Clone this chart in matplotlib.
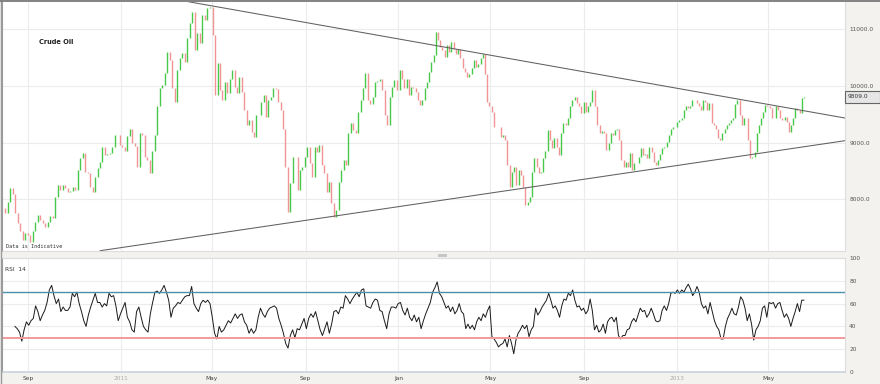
import matplotlib
matplotlib.use("Agg")
import matplotlib.pyplot as plt
import matplotlib.patches as mpatches
import pandas as pd

# closes, four runs (start date, end date, values)
closes_a = [7850, 7760, 7950, 8200, 8100, 7760, 7580, 7450, 7280, 7400,
            7370, 7250, 7450, 7600, 7720, 7640, 7580, 7510, 7600, 7700,
            7670, 8040, 8250, 8170, 8250, 8200, 8130, 8150, 8220, 8170,
            8520, 8730, 8820, 8490, 8460, 8220, 8130, 8400, 8550, 8660,
            8930, 8790, 8800, 8820, 8930, 9130, 9130, 8960, 8930, 8850,
            9120, 9250, 8990, 8950, 8570, 9170, 9130, 8750, 8700, 8460,
            8850, 9130, 9640, 9960, 10020, 10230, 10600, 10460, 9960, 9720,
            10290, 10500, 10580, 10430, 10840, 11110, 11310, 10630, 10930, 10760,
            11250, 11160, 11370, 11390]
closes_b = [10900, 9840, 10400, 9930, 9750, 10070, 9870, 10130, 10280, 9990,
            9870, 10160, 9900, 9580, 9310, 9400, 9190, 9100, 9490, 9490,
            9720, 9840, 9460, 9750, 9810, 9960, 9950, 9720, 9580, 9250,
            8570, 7780, 8280, 8750, 8740, 8170, 8520, 8570, 8750, 8930,
            8640, 8400, 8930, 8840, 8960, 8600, 8460, 8130, 8310, 7930,
            7690, 7810, 8310, 8520, 8700, 8610, 9170, 9340, 9220, 9170,
            9540, 9750, 9960, 10230, 9750, 9690, 9810, 10070, 10080, 10130,
            9930, 9490, 9310, 9810, 9990, 10100, 9930]
closes_c = [10280, 10130, 9960, 10130, 9840, 9990, 9960, 9900, 9750, 9660,
            9750, 9960, 10070, 10250, 10430, 10540, 10960, 10810, 10690, 10630,
            10520, 10720, 10600, 10780, 10660, 10570, 10660, 10490, 10310, 10250,
            10160, 10220, 10310, 10460, 10340, 10390, 10490, 10570, 10220, 9720,
            9640, 9540, 9280, 9270, 9280, 9100, 9130, 9050, 8610, 8220,
            8490, 8570, 8250, 8520, 8430, 8220, 7900, 7960, 8040, 8490,
            8730, 8570, 8460, 8490, 8730, 8850, 9220, 9050, 8900, 9080,
            8930, 8780, 9170, 9340, 9310, 9430, 9640, 9750, 9810, 9700,
            9640, 9520, 9720, 9550, 9640, 9720, 9930, 9640, 9310]
closes_d = [9170, 9200, 9170, 8870, 8990, 9170, 9130, 9220, 9250, 9050,
            8700, 8570, 8660, 8570, 8820, 8520, 8640, 8640, 8750, 8900,
            8780, 8800, 8730, 8930, 8840, 8660, 8610, 8700, 8800, 8900,
            8930, 9010, 9130, 9250, 9280, 9280, 9370, 9400, 9430, 9580,
            9640, 9620, 9640, 9750, 9750, 9700, 9640, 9580, 9750, 9720,
            9580, 9700, 9340, 9310, 9250, 9080, 9050, 9170, 9250, 9310,
            9340, 9400, 9430, 9690, 9750, 9490, 9310, 9430, 9430, 9050,
            8730, 8750, 8840, 9170, 9310, 9430, 9540, 9660, 9640, 9620,
            9430, 9430, 9640, 9580, 9430, 9400, 9460, 9370, 9190, 9310,
            9430, 9620, 9580, 9520, 9780, 9809]
close_runs = [("2010-07-30", "2011-04-28", closes_a),
              ("2011-05-02", "2011-12-30", closes_b),
              ("2012-01-03", "2012-09-18", closes_c),
              ("2012-09-22", "2013-06-17", closes_d)]

# RSI 14, two runs
rsi_a = [40, 38, 35, 27, 37, 44, 41, 45, 47, 58, 53, 45, 50, 54, 61, 72, 76, 67, 60, 64,
         53, 57, 54, 54, 57, 69, 66, 70, 60, 53, 45, 40, 50, 57, 63, 69, 61, 61, 57, 60,
         58, 69, 66, 67, 58, 45, 51, 56, 61, 48, 44, 37, 35, 53, 57, 48, 40, 37, 35, 51,
         61, 70, 71, 69, 72, 76, 70, 63, 48, 56, 58, 61, 60, 63, 66, 67, 67, 75, 60, 56,
         53, 60, 63, 61, 63, 60, 48, 34, 29, 40, 35, 37, 41, 45, 43, 47, 51, 47, 50, 51,
         44, 41, 34, 38, 34, 37, 48, 56, 51, 48, 53, 56, 57, 58, 56, 47, 41, 34, 25, 21,
         32, 37, 30, 38, 37, 42, 47, 38, 47, 51, 48, 53, 45, 37, 32, 38, 44, 34, 42, 53,
         54, 51, 57, 56, 67, 64, 60, 64, 67, 70, 66, 72, 73, 58, 57, 56, 61, 64, 63, 54,
         53, 45, 38, 51, 57, 57, 56, 60, 61, 54, 50, 56, 48, 45, 50, 44, 48, 38, 45, 51,
         56, 61, 70, 74, 79, 69]
rsi_b = [66, 61, 56, 58, 53, 57, 51, 54, 60, 53, 51, 38, 42, 38, 41, 37, 44, 48, 45, 51,
         48, 54, 58, 31, 29, 26, 22, 24, 25, 29, 22, 32, 25, 16, 28, 34, 37, 41, 38, 41,
         31, 37, 40, 56, 50, 53, 57, 60, 63, 69, 63, 56, 58, 54, 48, 58, 64, 63, 69, 67,
         72, 63, 57, 58, 54, 56, 51, 54, 64, 54, 37, 41, 35, 37, 42, 34, 44, 47, 48, 44,
         48, 32, 29, 32, 32, 37, 38, 44, 47, 44, 50, 56, 53, 54, 48, 51, 56, 51, 45, 44,
         45, 54, 58, 54, 60, 69, 70, 69, 72, 69, 72, 70, 74, 77, 73, 67, 70, 75, 70, 60,
         56, 58, 51, 61, 53, 45, 40, 37, 29, 29, 40, 47, 51, 56, 51, 50, 57, 66, 63, 56,
         45, 51, 42, 28, 37, 40, 45, 56, 58, 48, 61, 60, 61, 56, 60, 61, 54, 48, 51, 47,
         40, 47, 53, 60, 53, 63, 63]
rsi_runs = [("2010-08-15", "2012-02-24", rsi_a),
            ("2012-02-27", "2013-06-17", rsi_b)]

# triangle trendlines
upper_dates = ["2011-03-31", "2013-08-10"]
upper_prices = [11487, 9435]
lower_dates = ["2010-12-05", "2013-08-10"]
lower_prices = [7094, 9035]

tick_dates = ["2010-09-01", "2011-01-01", "2011-05-01", "2011-09-01", "2012-01-01",
              "2012-05-01", "2012-09-01", "2013-01-01", "2013-05-01"]
tick_labels = ["Sep", "2011", "May", "Sep", "Jan", "May", "Sep", "2013", "May"]
price_ticks = [8000, 9000, 10000, 11000]
rsi_ticks = [0, 20, 40, 60, 80, 100]
last_price = 9809.0


def run_series(runs):
    dates, vals = [], []
    for start, end, v in runs:
        dates += list(pd.date_range(start, end, periods=len(v)))
        vals += v
    return dates, vals


dates, closes = run_series(close_runs)
rsi_dates, rsi = run_series(rsi_runs)
opens = [closes[0]] + closes[:-1]
bar_colors = ["#48c848" if c >= o else "#f29494" for o, c in zip(opens, closes)]

W, H = 880, 384
fig = plt.figure(figsize=(8.8, 3.84), dpi=100, facecolor="#f4f2ef")


def fx(px):
    return px / W


def fy(py):
    return 1 - py / H


ax = fig.add_axes([fx(2), fy(251), fx(845 - 2), (251 - 2) / H])
rx = fig.add_axes([fx(2), fy(372), fx(845 - 2), (372 - 258) / H], sharex=ax)

xmin, xmax = pd.Timestamp("2010-07-29"), pd.Timestamp("2013-08-10")
tick_pos = [pd.Timestamp(d) for d in tick_dates]

# price panel
ax.vlines(dates, opens, closes, colors=bar_colors, linewidth=1.0)
ax.plot(pd.to_datetime(upper_dates), upper_prices, color="#606060", lw=0.75)
ax.plot(pd.to_datetime(lower_dates), lower_prices, color="#606060", lw=0.75)
ax.set_xlim(xmin, xmax)
ax.set_ylim(7089, 11482)
ax.set_yticks(price_ticks)
ax.set_yticklabels([f"{p:.1f}" for p in price_ticks])
ax.yaxis.tick_right()
ax.set_xticks(tick_pos)
ax.tick_params(axis="x", labelbottom=False, length=0)
ax.tick_params(axis="y", length=0, pad=3, labelsize=4.2, labelcolor="#555555")
ax.grid(True, color="#ececec", lw=0.8)
ax.set_axisbelow(True)
for side, sp in ax.spines.items():
    sp.set_color("#dddddd")
    sp.set_linewidth(0.8)
ax.spines["top"].set_visible(False)
ax.spines["left"].set_color("#9a9a9a")

ax.text(0.044, 0.83, "Crude Oil", transform=ax.transAxes, fontsize=4.8,
        fontweight="bold", color="#222222")
ax.text(0.005, 0.012, "Data is Indicative", transform=ax.transAxes,
        fontsize=3.8, family="DejaVu Sans Mono", color="#333333")

# RSI panel
rx.plot(rsi_dates, rsi, color="#1a1a1a", lw=0.7)
rx.axhline(70, color="#4a8fae", lw=1.0)
rx.axhline(30, color="#f29a9a", lw=1.4)
rx.set_ylim(0, 100)
rx.set_yticks(rsi_ticks)
rx.yaxis.tick_right()
rx.set_xticks(tick_pos)
rx.set_xticklabels(tick_labels)
for lab, txt in zip(rx.get_xticklabels(), tick_labels):
    lab.set_color("#aaaaaa" if txt.isdigit() else "#444444")
rx.tick_params(axis="x", length=0, pad=3, labelsize=4.2)
rx.tick_params(axis="y", length=0, pad=3, labelsize=4.2, labelcolor="#555555")
rx.grid(True, color="#ececec", lw=0.8)
rx.set_axisbelow(True)
for side, sp in rx.spines.items():
    sp.set_color("#dddddd")
    sp.set_linewidth(0.8)
rx.spines["bottom"].set_color("#c8d2dc")
rx.spines["bottom"].set_linewidth(1.2)
rx.spines["left"].set_color("#9a9a9a")
rx.text(0.004, 0.89, "RSI  14", transform=rx.transAxes, fontsize=4.2, color="#333333")

# last price marker on the right scale
fig.patches.append(mpatches.Rectangle((fx(845), fy(103)), fx(35), 12 / H,
                                      transform=fig.transFigure, facecolor="#e6e6e6",
                                      edgecolor="#666666", lw=0.8))
fig.text(fx(848), fy(97), f"{last_price:.1f}", fontsize=4.2, va="center", color="#333333")

# splitter handle between the panels, outer frame lines
fig.patches.append(mpatches.Rectangle((fx(438), fy(256.5)), fx(9), 3 / H,
                                      transform=fig.transFigure, facecolor="#c6c6c6",
                                      edgecolor="none"))
fig.lines.append(plt.Line2D([fx(0.5), fx(0.5)], [0, 1], transform=fig.transFigure,
                            color="#9a9a9a", lw=1))
fig.lines.append(plt.Line2D([0, 1], [fy(1), fy(1)], transform=fig.transFigure,
                            color="#7a7a7a", lw=1.3))

fig.savefig("out.png", dpi=100, facecolor=fig.get_facecolor())
